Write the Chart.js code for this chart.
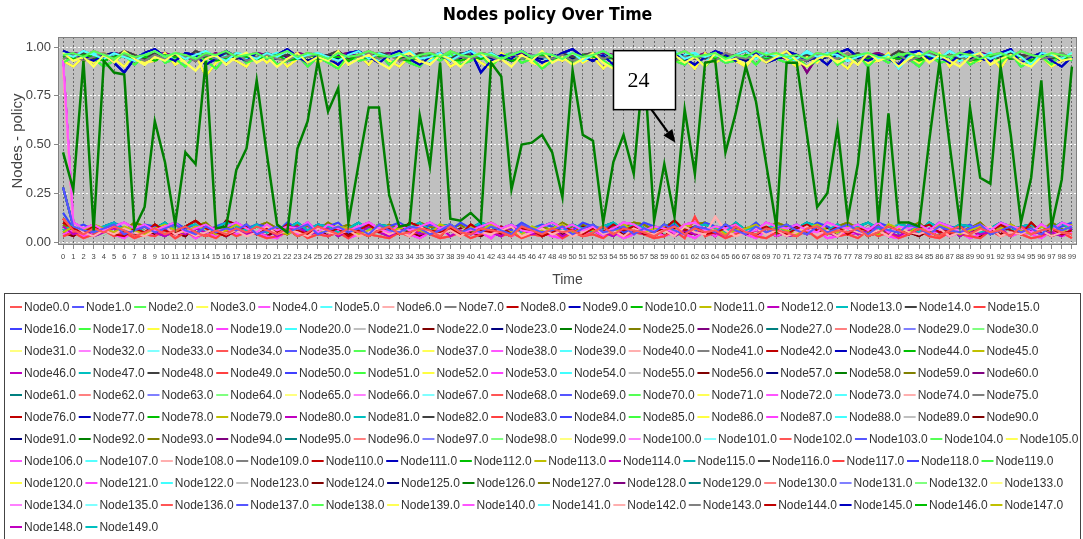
<!DOCTYPE html>
<html>
<head>
<meta charset="utf-8">
<title>Nodes policy Over Time</title>
<script src="https://cdn.jsdelivr.net/npm/chart.js@4.4.1/dist/chart.umd.min.js"></script>
<style>
  html, body { margin: 0; padding: 0; background: #ffffff; }
  canvas { display: block; }
</style>
</head>
<body>
<canvas id="policyChart" width="1083" height="539"></canvas>
<script>
// Time steps along the category axis
const times = [
  0,1,2,3,4,5,6,7,8,9,10,11,12,13,14,15,16,17,18,19,
  20,21,22,23,24,25,26,27,28,29,30,31,32,33,34,35,36,37,38,39,
  40,41,42,43,44,45,46,47,48,49,50,51,52,53,54,55,56,57,58,59,
  60,61,62,63,64,65,66,67,68,69,70,71,72,73,74,75,76,77,78,79,
  80,81,82,83,84,85,86,87,88,89,90,91,92,93,94,95,96,97,98,99
];

// Y axis tick values
const yTicks = [0, 0.25, 0.5, 0.75, 1.0];

// Series colour cycle (34 colours, repeats for later nodes)
const palette = [
  'rgb(255,85,85)', 'rgb(85,85,255)', 'rgb(85,255,85)', 'rgb(255,255,85)',
  'rgb(255,85,255)', 'rgb(85,255,255)', 'rgb(255,175,175)', 'rgb(128,128,128)',
  'rgb(192,0,0)', 'rgb(0,0,192)', 'rgb(0,192,0)', 'rgb(192,192,0)',
  'rgb(192,0,192)', 'rgb(0,192,192)', 'rgb(64,64,64)', 'rgb(255,64,64)',
  'rgb(64,64,255)', 'rgb(64,255,64)', 'rgb(255,255,64)', 'rgb(255,64,255)',
  'rgb(64,255,255)', 'rgb(192,192,192)', 'rgb(128,0,0)', 'rgb(0,0,128)',
  'rgb(0,128,0)', 'rgb(128,128,0)', 'rgb(128,0,128)', 'rgb(0,128,128)',
  'rgb(255,128,128)', 'rgb(128,128,255)', 'rgb(128,255,128)', 'rgb(255,255,128)',
  'rgb(255,128,255)', 'rgb(128,255,255)'
];

// All policy values below are in hundredths (0..100)

// Node24: the node that keeps switching policy
const node24 = [
  46,27,93,6,93,87,86,7,18,62,
  41,9,46,40,93,7,8,37,48,83,
  45,9,5,48,62,93,67,79,10,40,
  69,69,24,8,9,65,39,92,12,11,
  15,10,92,85,27,50,51,55,46,23,
  88,55,52,10,41,55,35,93,11,40,
  13,68,35,92,93,46,66,90,72,40,
  8,92,92,55,18,25,59,12,40,90,
  10,66,10,10,8,52,92,50,10,69,
  33,30,90,55,10,33,83,8,32,90
];

// Nodes that settle near 1
const h0 = [
  96,97,95,98,96,94,97,95,96,98, 95,97,96,94,97,96,98,95,96,97,
  94,96,98,95,97,96,94,97,95,96, 98,96,95,97,94,96,97,95,98,96,
  95,97,96,94,96,98,95,97,96,94, 97,95,96,98,95,97,94,96,97,95,
  96,98,95,96,97,94,96,95,98,96, 97,95,96,94,97,96,98,95,96,97,
  95,94,96,97,95,98,96,95,97,96, 94,96,97,95,98,96,95,97,96,95
];
const h1 = [
  97,93,95,90,96,92,98,94,91,95, 93,97,92,88,94,96,91,95,97,92,
  95,90,94,97,92,95,93,98,91,94, 96,92,89,95,97,93,91,96,94,90,
  95,97,92,94,90,96,93,98,92,95, 91,94,97,92,89,95,93,97,91,94,
  96,92,95,90,97,93,94,91,96,92, 95,98,93,90,94,96,92,95,91,97,
  93,95,90,94,97,92,96,93,90,95, 97,91,94,96,92,90,95,97,93,94
];
const h2 = [
  97,95,98,96,94,97,95,93,96,98, 95,97,94,96,98,95,93,97,96,94,
  97,95,98,94,96,97,95,93,96,98, 94,97,95,96,98,94,95,97,93,96,
  98,95,97,94,96,98,95,97,96,94, 97,93,96,98,95,97,94,96,95,97,
  98,94,96,95,97,93,96,98,94,97, 95,96,94,98,95,97,96,93,95,97,
  94,96,89,95,97,96,94,98,95,96, 97,94,96,98,95,91,97,96,94,97
];
const h3 = [
  94,96,93,95,97,94,96,95,93,96, 94,97,95,93,96,94,95,97,93,95,
  96,94,93,96,95,97,94,93,96,95, 97,94,96,93,95,94,97,96,93,95,
  94,96,95,93,97,94,96,95,94,96, 93,95,97,94,96,93,95,94,96,97,
  93,95,94,96,93,97,95,94,96,93, 95,97,94,93,96,95,94,97,93,96,
  95,94,96,93,95,97,94,96,95,93, 96,94,97,95,93,96,94,95,97,94
];
const h4 = [
  98,96,95,93,96,92,87,94,97,99, 95,93,97,96,91,94,98,95,93,97,
  94,96,99,95,92,96,94,91,97,98, 95,92,96,98,94,91,95,97,93,96,
  98,87,93,96,94,98,95,92,94,97, 99,95,93,96,91,94,98,96,93,95,
  97,94,91,95,98,96,93,95,97,92, 94,98,96,93,95,91,97,99,95,93,
  96,94,91,97,98,94,95,92,96,98, 94,93,97,99,92,95,97,93,90,95
];
const h5 = [
  95,94,96,95,93,95,96,94,95,93, 96,95,94,96,95,93,94,96,95,94,
  95,96,93,94,95,96,94,95,93,96, 94,95,96,94,93,95,96,95,94,93,
  95,94,96,95,93,94,95,96,94,95, 93,96,95,94,95,93,96,94,95,96,
  94,93,95,96,94,95,93,96,95,94, 95,96,94,93,95,96,94,95,93,94,
  96,95,94,96,93,95,94,96,95,93, 94,95,96,94,95,93,96,95,94,95
];
const h6 = [
  96,95,97,94,96,95,98,96,94,97, 95,96,94,98,96,95,97,94,96,95,
  97,95,96,94,97,95,96,98,94,96, 95,97,96,94,95,97,96,95,94,97,
  96,95,97,94,96,98,95,96,94,97, 95,96,97,95,94,96,98,95,96,94,
  97,95,96,94,97,95,96,98,95,96, 94,97,95,96,94,97,96,95,97,94,
  96,95,98,96,94,97,95,96,94,97, 95,96,94,97,96,95,97,94,96,95
];
const h7 = [
  92,95,97,94,90,93,96,91,95,98, 92,94,90,96,93,89,95,97,92,94,
  97,91,93,96,90,95,92,89,96,93, 94,97,91,95,92,90,96,93,97,91,
  93,96,90,95,97,92,94,89,93,96, 91,95,97,93,90,94,96,92,89,95,
  93,91,96,90,95,92,93,96,91,97, 94,92,95,90,93,97,91,94,96,90,
  95,92,97,94,90,96,92,93,97,91, 94,96,92,97,90,93,95,91,97,93
];
const h8 = [
  93,90,95,92,97,94,90,96,92,93, 97,91,94,96,85,92,95,93,90,97,
  92,96,90,94,97,92,95,89,94,96, 91,97,93,90,95,92,94,97,90,93,
  96,92,89,97,94,96,92,90,95,93, 97,92,95,89,94,92,97,93,90,96,
  92,94,89,97,92,95,93,90,96,92, 97,94,90,95,92,97,93,89,96,92,
  93,97,90,95,92,94,97,90,95,92, 93,96,89,97,94,92,95,90,93,97
];
const h9 = [
  96,94,95,97,93,96,95,94,97,95, 93,96,94,95,97,93,96,95,94,96,
  95,97,93,94,96,95,93,97,94,96, 95,93,96,97,94,95,93,96,95,97,
  94,96,93,95,97,94,96,95,93,96, 97,94,95,96,93,97,95,94,96,95,
  93,96,97,94,95,93,96,95,97,94, 96,95,93,97,94,96,95,93,96,97,
  94,95,96,93,97,94,96,95,93,96, 95,97,94,96,93,95,97,94,96,95
];
const h10 = [
  96,95,94,95,96,97,95,94,96,95, 94,96,95,93,95,94,96,95,94,96,
  95,94,96,95,93,95,96,94,95,96, 94,95,96,94,95,93,94,96,95,94,
  96,95,94,95,93,96,95,94,96,95, 94,95,93,96,94,95,96,94,95,93,
  95,96,94,95,94,96,95,93,95,96, 94,95,96,94,93,95,96,95,94,95,
  96,94,95,93,95,96,94,95,96,94, 95,93,95,96,94,95,94,96,93,95
];
const h11 = [
  95,97,96,94,95,97,96,95,94,96, 97,95,94,96,95,97,94,96,95,97,
  96,94,95,97,96,94,95,96,97,95, 94,96,97,95,94,96,95,97,94,96,
  95,97,96,94,95,97,96,95,94,97, 96,95,94,97,96,95,94,96,97,95,
  94,96,95,97,94,96,95,94,97,96, 95,94,96,87,95,97,96,95,94,96,
  97,95,94,96,95,97,94,96,95,94, 97,96,95,94,96,95,97,94,96,95
];

// Nodes that settle near 0
const l0 = [
  12,6,4,7,5,8,6,3,5,7, 4,6,8,5,3,6,4,7,5,8,
  6,4,7,3,5,8,6,4,7,5, 3,6,8,4,5,7,6,3,8,5,
  4,7,6,5,3,8,6,4,7,5, 6,3,5,8,4,7,6,5,3,6,
  8,4,7,5,6,3,8,5,4,7, 6,5,3,7,8,4,6,5,7,3,
  5,8,6,4,7,5,3,6,8,4, 7,5,6,3,8,4,6,7,5,4
];
const l1 = [
  28,8,6,5,7,9,4,6,8,5, 7,9,6,4,8,5,7,6,9,4,
  6,8,5,7,9,4,6,8,5,7, 4,9,6,5,8,7,4,6,9,5,
  7,5,8,6,4,9,7,5,6,8, 4,7,9,5,6,8,4,7,5,9,
  6,4,8,7,5,9,6,4,8,5, 7,9,6,4,8,5,7,9,6,4,
  8,6,5,9,7,4,8,6,5,7, 9,4,6,8,5,7,4,9,6,8
];
const l2 = [
  93,10,7,9,6,8,10,7,9,6, 8,10,5,7,9,6,8,10,7,5,
  9,6,8,7,10,5,9,7,6,8, 10,7,5,9,6,8,10,7,9,5,
  6,8,10,7,9,6,5,8,10,7, 9,6,8,5,7,10,9,6,8,7,
  5,9,10,6,8,7,9,5,6,10, 8,7,9,6,5,10,8,7,9,6,
  10,5,8,7,9,6,10,8,5,7, 9,6,10,8,7,5,9,6,10,8
];
const l3 = [
  90,9,5,3,6,4,7,5,3,6, 8,4,6,3,5,7,4,6,3,5,
  8,4,6,5,3,7,5,4,6,3, 5,7,4,6,3,8,5,4,6,3,
  7,5,4,6,8,3,5,7,4,6, 3,5,8,4,6,3,7,5,4,6,
  3,8,5,4,13,6,3,5,7,4, 6,3,5,8,4,6,3,7,5,4,
  6,3,8,5,4,6,7,3,5,4, 6,8,3,5,4,7,6,3,5,4
];
const l4 = [
  10,7,5,8,6,4,3,7,5,9, 6,4,8,11,7,5,3,6,8,4,
  7,5,9,6,4,8,5,7,3,6, 9,5,7,4,10,8,6,5,7,4,
  9,6,5,8,4,7,6,3,5,8, 6,4,7,5,9,6,8,4,5,7,
  11,6,8,4,5,7,9,4,6,8, 5,4,7,9,6,5,8,4,7,6,
  5,8,6,4,7,9,5,6,8,4, 7,5,9,6,4,10,5,7,4,6
];
const l5 = [
  5,8,6,9,7,5,8,6,4,7, 9,6,5,8,7,4,6,9,7,5,
  8,6,4,7,9,5,6,8,7,4, 6,9,5,7,8,6,4,9,7,5,
  8,6,9,7,5,4,8,6,7,9, 5,7,6,8,4,9,6,5,7,8,
  6,9,7,5,8,4,6,7,9,5, 8,6,4,7,9,6,5,8,7,6,
  4,9,7,5,8,6,9,7,4,6, 8,5,7,9,6,4,8,7,5,9
];
const l6 = [
  8,4,6,3,5,7,4,6,8,5, 3,6,4,7,5,8,3,6,4,5,
  7,3,6,8,4,5,7,3,6,4, 8,5,3,6,7,4,5,8,3,6,
  4,7,5,3,8,6,4,5,7,3, 6,4,8,5,3,7,6,4,5,8,
  3,6,4,7,5,3,8,4,6,5, 7,3,4,8,6,5,3,7,4,6,
  8,5,3,6,4,7,5,8,3,6, 4,5,7,3,8,6,4,5,3,7
];
const l7 = [
  6,9,7,5,8,10,6,8,5,7, 10,6,8,9,5,7,10,8,6,9,
  5,8,7,10,6,9,8,5,7,10, 6,9,8,5,7,10,6,8,9,5,
  7,10,8,6,9,5,7,8,10,6, 9,7,5,8,10,6,9,7,5,8,
  10,6,8,9,7,5,10,6,8,7, 9,5,7,10,8,6,9,5,8,10,
  7,6,9,8,5,10,7,6,9,8, 5,7,10,6,8,9,5,7,10,6
];
const l8 = [
  3,5,2,4,6,3,5,2,4,3, 6,2,5,3,4,2,6,3,5,4,
  2,3,5,6,2,4,3,5,2,6, 4,3,2,5,3,6,4,2,3,5,
  2,4,6,3,5,2,4,3,6,2, 5,3,4,2,6,3,5,4,2,3,
  6,2,13,3,5,2,4,6,3,2, 5,4,3,6,2,5,3,4,2,6,
  3,5,2,4,6,3,2,5,4,3, 2,6,3,5,4,2,3,6,5,2
];
const l9 = [
  15,7,9,6,8,10,7,5,9,8, 6,10,7,9,5,8,10,6,7,9,
  8,5,10,7,6,9,8,10,5,7, 9,6,8,10,7,5,9,8,6,10,
  7,9,5,8,6,10,7,9,8,5, 6,10,8,7,9,5,6,10,8,7,
  9,6,5,10,8,7,9,6,10,5, 8,7,9,6,10,8,5,7,9,6,
  10,8,7,5,9,6,10,8,7,9, 5,6,10,8,7,9,6,5,8,10
];
const l10 = [
  4,6,3,5,7,4,2,6,5,3, 7,4,6,2,5,3,7,4,6,5,
  3,2,6,4,7,5,3,6,2,4, 5,7,3,6,4,2,5,7,3,6,
  4,5,2,7,3,6,4,5,3,2, 7,4,6,3,5,2,4,7,6,3,
  5,4,2,6,3,7,5,4,2,6, 3,5,7,4,6,2,3,5,4,7,
  6,3,2,5,7,4,6,3,5,2, 4,7,6,3,5,4,2,6,3,5
];
const l11 = [
  7,5,8,6,4,7,9,5,6,8, 4,7,5,9,6,8,5,4,7,6,
  9,5,8,6,4,7,5,9,6,8, 5,4,7,6,9,8,5,7,4,6,
  8,5,9,7,6,4,8,5,7,9, 6,4,7,8,5,6,9,4,7,5,
  8,6,9,5,7,4,8,6,5,9, 7,4,6,8,5,9,7,6,4,8,
  5,7,9,6,4,8,5,7,6,9, 4,8,6,5,7,9,4,6,8,5
];
const l12 = [
  5,3,7,4,6,8,5,3,6,4, 7,5,3,8,6,4,11,9,7,5,
  3,6,4,8,5,7,3,6,4,5, 8,6,4,7,5,3,6,8,4,7,
  5,3,6,4,8,5,7,3,6,4, 5,8,6,3,7,4,5,6,8,3,
  7,5,4,6,3,8,5,7,4,6, 3,5,8,4,6,7,3,5,4,8,
  6,4,7,5,3,6,8,4,5,7, 3,6,4,8,5,7,6,3,5,4
];
const l13 = [
  9,6,8,5,7,9,6,10,8,5, 7,9,6,8,10,5,7,9,6,8,
  10,7,5,9,8,6,10,7,9,5, 8,6,9,7,5,10,8,6,7,9,
  5,8,10,6,7,9,5,8,6,10, 7,9,6,8,5,7,10,9,6,8,
  5,7,9,10,6,8,7,5,9,6, 10,8,7,5,9,6,8,10,7,5,
  9,6,8,7,10,5,9,6,8,7, 10,5,7,9,6,8,5,10,7,9
];

// Which value track each node (Node0.0 .. Node149.0) follows
const nodeTrack = (
  'l0 l1 h0 h1 l2 h2 l3 h3 l4 h4 h5 l5 l6 l7 h6 l8 l9 h7 h8 l10 ' +
  'h9 l11 l12 h10 n24 l13 h11 l7 h0 l9 h7 h1 l10 h2 h3 l1 l5 h8 l2 h9 ' +
  'l3 h6 l4 h4 h5 l13 l6 l7 h6 l0 h4 l11 h8 l10 h9 l11 l12 h10 h5 l13 ' +
  'h11 l7 l8 h7 l9 h1 l10 h2 l0 h0 l11 h3 l2 h9 l3 h11 l4 h10 h5 l5 ' +
  'h6 l6 h7 l8 h8 l9 h0 l12 h1 l13 h2 l1 l0 h3 l2 h4 l3 h5 l4 h6 ' +
  'l5 h7 l6 h8 l7 h9 l8 h10 l9 h11 l10 l11 h0 l12 h1 l13 h2 l0 h3 l1 ' +
  'h4 l2 h5 l3 h6 l4 h7 l5 h8 l6 h9 l7 h10 l8 h11 l9 l10 h0 l11 h1 ' +
  'l12 h2 l13 h3 l0 h4 l1 h5 l2 h6'
).split(' ');

const tracks = { n24: node24, h0, h1, h2, h3, h4, h5, h6, h7, h8, h9, h10, h11,
  l0, l1, l2, l3, l4, l5, l6, l7, l8, l9, l10, l11, l12, l13 };

const SANS = '"Liberation Sans", Arial, sans-serif';

const datasets = nodeTrack.map((code, i) => {
  const colour = palette[i % palette.length];
  return {
    label: 'Node' + i + '.0',
    data: tracks[code].map(v => v / 100),
    borderColor: colour,
    backgroundColor: colour,
    borderWidth: code === 'n24' ? 2.5 : 2,
    pointRadius: 0,
    pointHoverRadius: 0,
    tension: 0,
    order: code === 'n24' ? -1 : 0
  };
});

// Grey plot background and outline
const plotFrame = {
  id: 'plotFrame',
  beforeDraw(chart) {
    const { ctx, chartArea: a } = chart;
    ctx.save();
    ctx.fillStyle = '#c0c0c0';
    ctx.fillRect(a.left, a.top, a.right - a.left, a.bottom - a.top);
    ctx.restore();
  },
  afterDatasetsDraw(chart) {
    const { ctx, chartArea: a } = chart;
    ctx.save();
    ctx.strokeStyle = '#808080';
    ctx.lineWidth = 1;
    ctx.strokeRect(Math.round(a.left) + 0.5, Math.round(a.top) + 0.5,
      Math.round(a.right - a.left) - 1, Math.round(a.bottom - a.top) - 1);
    ctx.restore();
  }
};

// Boxed "24" label with an arrow pointing at the Node24 line
const calloutLabel = {
  id: 'calloutLabel',
  afterDatasetsDraw(chart) {
    const { ctx, scales } = chart;
    const tipX = scales.x.getPixelForValue(60) + 1;
    const tipY = scales.y.getPixelForValue(0.51);
    const boxL = tipX - 62, boxT = tipY - 92, boxW = 62, boxH = 59;
    ctx.save();
    ctx.fillStyle = '#ffffff';
    ctx.fillRect(boxL, boxT, boxW, boxH);
    ctx.strokeStyle = '#000000';
    ctx.lineWidth = 1.5;
    ctx.strokeRect(boxL, boxT, boxW, boxH);
    ctx.fillStyle = '#000000';
    ctx.font = '22px "Liberation Serif", "Times New Roman", serif';
    ctx.textAlign = 'center';
    ctx.textBaseline = 'middle';
    ctx.fillText('24', boxL + 25, boxT + 31);
    // arrow shaft and head
    const sx = boxL + 38, sy = boxT + boxH;
    const ang = Math.atan2(tipY - sy, tipX - sx);
    const headLen = 13, headHalf = 5.5;
    const bx = tipX - headLen * Math.cos(ang), by = tipY - headLen * Math.sin(ang);
    ctx.lineWidth = 2.2;
    ctx.beginPath();
    ctx.moveTo(sx, sy);
    ctx.lineTo(bx, by);
    ctx.stroke();
    ctx.beginPath();
    ctx.moveTo(tipX, tipY);
    ctx.lineTo(bx + headHalf * Math.sin(ang), by - headHalf * Math.cos(ang));
    ctx.lineTo(bx - headHalf * Math.sin(ang), by + headHalf * Math.cos(ang));
    ctx.closePath();
    ctx.fill();
    ctx.restore();
  }
};

// Boxed legend under the axis, rows of short line swatches and names
const boxedLegend = {
  id: 'boxedLegend',
  afterDraw(chart) {
    const { ctx } = chart;
    const sets = chart.data.datasets;
    const boxTop = 293.5, boxLeft = 4.5, boxRight = 1080.5;
    const startX = 10, firstRowY = 307, rowStep = 22;
    const swatch = 12, gapText = 2, gapItem = 2.7;
    ctx.save();
    ctx.strokeStyle = '#444444';
    ctx.lineWidth = 1;
    ctx.strokeRect(boxLeft, boxTop, boxRight - boxLeft, 300);
    ctx.font = '12px ' + SANS;
    ctx.textBaseline = 'middle';
    ctx.textAlign = 'left';
    let x = startX, y = firstRowY;
    sets.forEach((ds, i) => {
      const w = ctx.measureText(ds.label).width;
      const itemW = swatch + gapText + w;
      if (i > 0 && x + itemW > boxRight) {
        x = startX;
        y += rowStep;
      }
      ctx.strokeStyle = ds.borderColor;
      ctx.lineWidth = 2;
      ctx.beginPath();
      ctx.moveTo(x, y);
      ctx.lineTo(x + swatch, y);
      ctx.stroke();
      ctx.fillStyle = '#333333';
      ctx.fillText(ds.label, x + swatch + gapText, y + 0.5);
      x += itemW + gapItem;
    });
    ctx.restore();
  }
};

Chart.defaults.font.family = SANS;

new Chart(document.getElementById('policyChart'), {
  type: 'line',
  data: { labels: times.map(String), datasets },
  options: {
    responsive: false,
    animation: false,
    events: [],
    layout: { padding: { left: 18, right: 6, top: 0, bottom: 247 } },
    plugins: {
      legend: { display: false },
      tooltip: { enabled: false },
      title: {
        display: true,
        text: 'Nodes policy Over Time',
        color: '#000000',
        font: { family: '"DejaVu Sans Condensed", "Liberation Sans Narrow", "DejaVu Sans", sans-serif', size: 17.5, weight: 'bold' },
        padding: { top: 5, bottom: 11 }
      }
    },
    scales: {
      x: {
        type: 'category',
        offset: true,
        afterFit(scale) { scale.height = 47; },
        ticks: {
          autoSkip: false, maxRotation: 0, minRotation: 0,
          font: { size: 7.5 }, color: '#444444', padding: 3
        },
        grid: {
          color: '#6a6a6a', lineWidth: 1, offset: false,
          tickLength: 4, tickColor: '#888888', tickBorderDash: []
        },
        border: { display: false, dash: [2, 2] },
        title: {
          display: true, text: 'Time', color: '#444444',
          font: { size: 14 }, padding: { top: 0, bottom: 3.6 }
        }
      },
      y: {
        min: -0.015,
        max: 1.052,
        afterFit(scale) { scale.width = 40; },
        afterBuildTicks(scale) { scale.ticks = yTicks.map(v => ({ value: v })); },
        ticks: {
          callback: v => Number(v).toFixed(2),
          font: { size: 13 }, color: '#444444', padding: 3
        },
        grid: {
          color: '#ffffff', lineWidth: 1,
          tickLength: 4, tickColor: '#888888', tickBorderDash: []
        },
        border: { display: false, dash: [2, 2] },
        title: {
          display: true, text: 'Nodes - policy', color: '#444444',
          font: { size: 15 }, padding: { top: -9, bottom: 0 }
        }
      }
    }
  },
  plugins: [plotFrame, calloutLabel, boxedLegend]
});
</script>
</body>
</html>
